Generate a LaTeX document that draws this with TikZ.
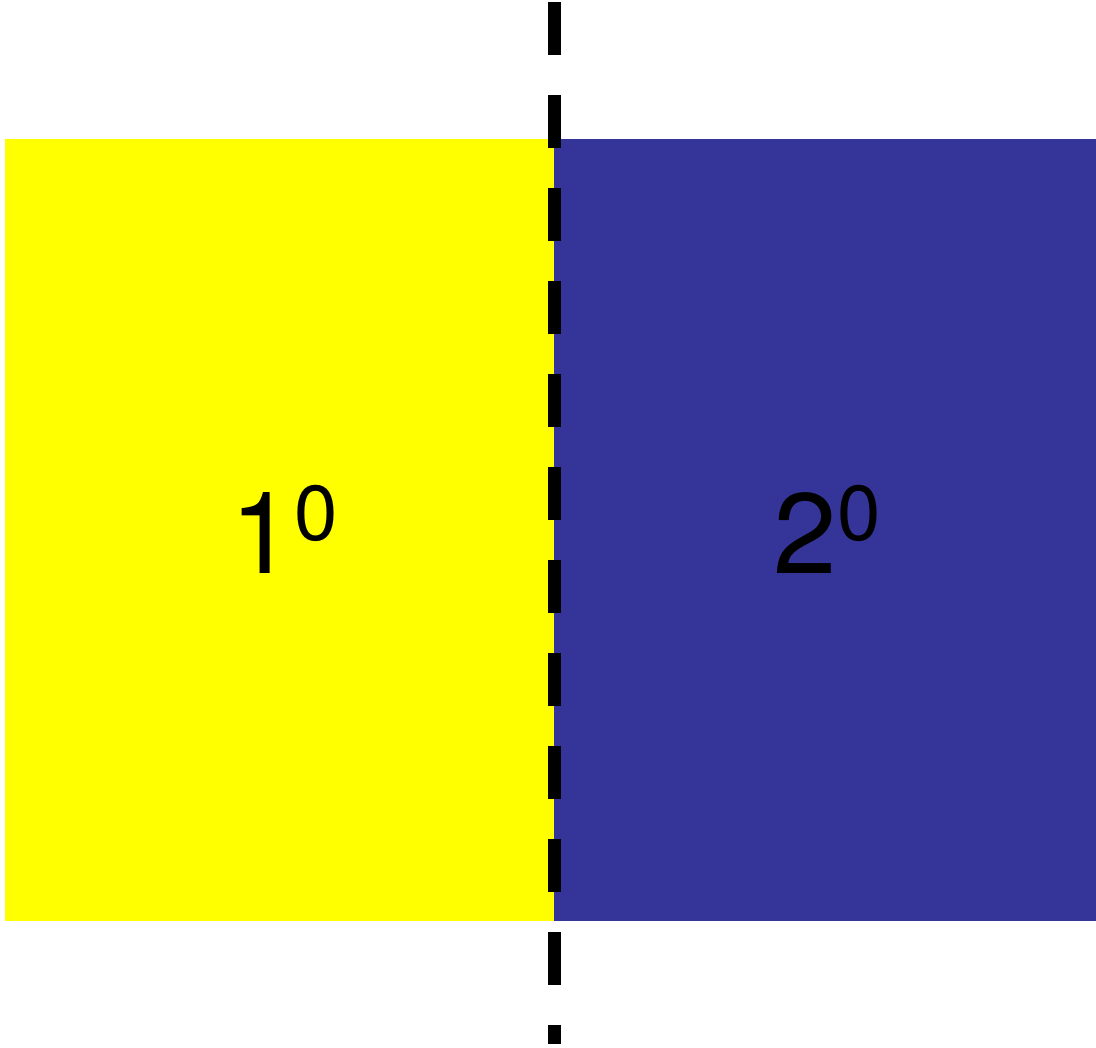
\documentclass[tikz,border=0pt]{standalone}
\usepackage{fontspec}
\setmainfont{TeX Gyre Heros}
\usetikzlibrary{positioning}

\definecolor{phaseblue}{RGB}{53,53,153}
\definecolor{phaseyellow}{RGB}{255,255,0}

\begin{document}
\begin{tikzpicture}[
    x=0.02cm,y=-0.02cm,
    phase/.style={draw=none},
    label/.style={inner sep=0pt,anchor=base,
                  font=\fontsize{65pt}{70pt}\selectfont},
    boundary/.style={line width=0.26cm,dash pattern=on 1.06cm off 0.8cm},
]

\useasboundingbox (0,0) rectangle (1096,1048);

% ---- Phase regions -------------------------------------------------------
\fill[phase,phaseyellow] (5,139) rectangle (554,921);
\fill[phase,phaseblue]   (554,139) rectangle (1096,921);

% ---- Labels --------------------------------------------------------------
\node[label] (p1) at (284,573)
    {1\raisebox{0.65cm}{\fontsize{44.4pt}{48pt}\selectfont 0}};
\node[label] (p2) at (827,573)
    {2\raisebox{0.65cm}{\fontsize{44.4pt}{48pt}\selectfont 0}};

% ---- Interface -----------------------------------------------------------
\coordinate (top) at (554,2);
\coordinate (bot) at (554,1044);
\draw[boundary] (top) -- (bot);

\end{tikzpicture}
\end{document}
